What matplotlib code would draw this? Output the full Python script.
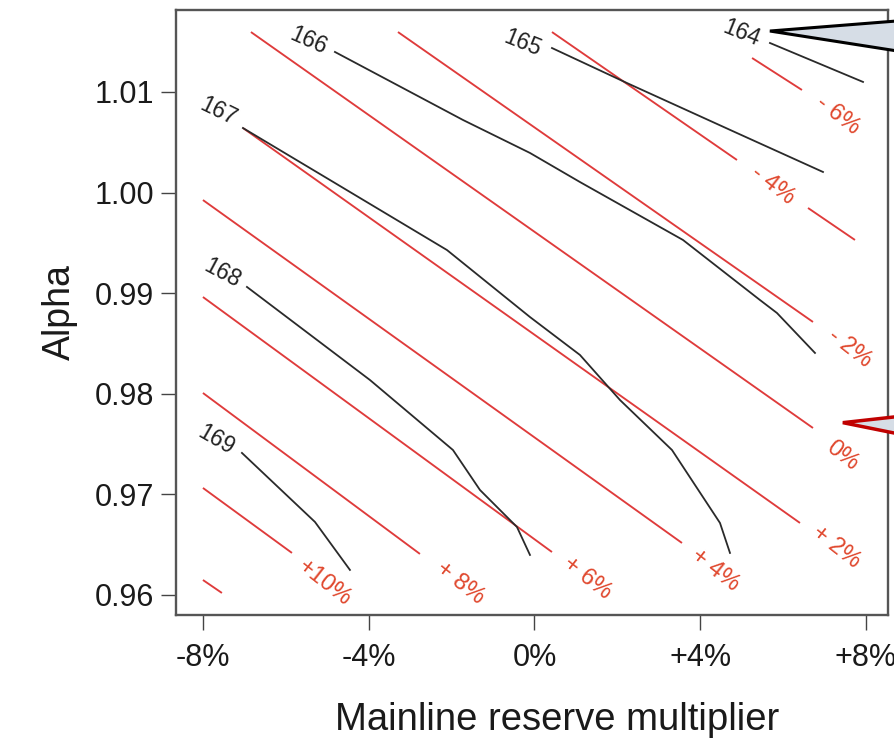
import matplotlib
matplotlib.use("Agg")
import matplotlib.pyplot as plt
from matplotlib.patches import Polygon

plt.rcParams['font.family'] = ['Liberation Sans', 'DejaVu Sans']

# ---- axis ticks ----
x_ticks = [-8, -4, 0, 4, 8]
x_tick_labels = ["-8%", "-4%", "0%", "+4%", "+8%"]
y_ticks = [0.96, 0.97, 0.98, 0.99, 1.00, 1.01]
y_tick_labels = ["0.96", "0.97", "0.98", "0.99", "1.00", "1.01"]

# ---- red reference lines (reserve change), each as segments ----
red_names = ["-6%", "-4%a", "-4%b", "-2%", "0%", "+2%", "+4%", "+6%", "+8%", "+10%", "+12%"]
red_x0 = [5.25, 0.422, 6.60, -3.294, -6.842, -7.035, -8.0, -8.0, -8.0, -8.0, -8.0]
red_y0 = [1.01338, 1.01596, 0.99847, 1.01596, 1.01596, 1.00642, 0.99926, 0.98962, 0.98008, 0.97064, 0.96149]
red_x1 = [6.454, 4.886, 7.733, 6.720, 6.720, 6.406, 3.559, 0.422, -2.764, -5.852, -7.542]
red_y1 = [1.0102, 1.00324, 0.99529, 0.98714, 0.97660, 0.96716, 0.96517, 0.96427, 0.96408, 0.96418, 0.9602]

red_labels = ["- 6%", "- 4%", "- 2%", "0%", "+ 2%", "+ 4%", "+ 6%", "+ 8%", "+10%"]
red_lab_x = [7.323, 5.755, 7.613, 7.420, 7.275, 4.355, 1.266, -1.798, -5.056]
red_lab_y = [1.00771, 1.00076, 0.98455, 0.97382, 0.96477, 0.96249, 0.96169, 0.96120, 0.96120]

# ---- black contour lines ----
c164_x = [5.682, 7.927]
c164_y = [1.01487, 1.0110]
c165_x = [0.422, 2.232, 4.886, 6.961]
c165_y = [1.01437, 1.01089, 1.00592, 1.00205]
c166_x = [-4.815, -1.726, -0.109, 1.097, 3.583, 5.441, 5.851, 6.768]
c166_y = [1.01398, 1.00722, 1.00394, 1.00105, 0.99529, 0.98932, 0.98803, 0.98406]
c167_x = [-7.035, -4.935, -2.112, -0.109, 1.097, 2.063, 3.318, 4.476, 4.717]
c167_y = [1.00642, 1.00125, 0.99429, 0.98763, 0.98386, 0.97938, 0.97441, 0.96716, 0.96418]
c168_x = [-6.938, -3.970, -1.967, -1.316, -0.423, -0.109]
c168_y = [0.99062, 0.98137, 0.97441, 0.97044, 0.96676, 0.96398]
c169_x = [-7.059, -5.297, -4.453]
c169_y = [0.97412, 0.96726, 0.96249]

contour_levels = ["164", "165", "166", "167", "168", "169"]
contour_lab_x = [4.983, -0.302, -5.466, -7.638, -7.542, -7.686]
contour_lab_y = [1.01586, 1.01487, 1.01507, 1.00801, 0.99201, 0.97541]
contour_lab_rot = [-22, -22, -24, -26, -28, -30]

# ---- callouts (data coords of tip and base, right side) ----
gray_callout_x = [5.68, 8.75, 8.75]
gray_callout_y = [1.01606, 1.01706, 1.01408]
red_callout_x = [7.44, 8.75, 8.75]
red_callout_y = [0.97713, 0.97773, 0.97604]

fig = plt.figure(figsize=(8.94, 7.43), dpi=100)
ax = fig.add_axes([176/894, 1 - 615/743, (888-176)/894, (615-10)/743])

red_line_col = "#df3b3b"
red_text_col = "#e0482e"
black_col = "#2a2a2a"

for x0, y0, x1, y1 in zip(red_x0, red_y0, red_x1, red_y1):
    ax.plot([x0, x1], [y0, y1], color=red_line_col, lw=1.35, solid_capstyle='butt', zorder=2)

for t, x, y in zip(red_labels, red_lab_x, red_lab_y):
    ax.text(x, y, t, color=red_text_col, fontsize=17, rotation=-38,
            ha='center', va='center', rotation_mode='anchor', zorder=3)

for xs, ys in [(c164_x, c164_y), (c165_x, c165_y), (c166_x, c166_y),
               (c167_x, c167_y), (c168_x, c168_y), (c169_x, c169_y)]:
    ax.plot(xs, ys, color=black_col, lw=1.3, zorder=3)

for t, x, y, r in zip(contour_levels, contour_lab_x, contour_lab_y, contour_lab_rot):
    ax.text(x, y, t, color="#222222", fontsize=16.5, rotation=r,
            ha='center', va='center', rotation_mode='anchor', zorder=3)

ax.add_patch(Polygon(list(zip(gray_callout_x, gray_callout_y)), closed=True,
                     facecolor="#d6dde6", edgecolor="black", lw=2.2,
                     clip_on=False, zorder=10))
ax.add_patch(Polygon(list(zip(red_callout_x, red_callout_y)), closed=True,
                     facecolor="#d6dde6", edgecolor="#c00000", lw=2.5,
                     clip_on=False, zorder=10))

ax.set_xlim(-8.65, 8.53)
ax.set_ylim(0.95801, 1.01815)
ax.set_xticks(x_ticks)
ax.set_xticklabels(x_tick_labels)
ax.set_yticks(y_ticks)
ax.set_yticklabels(y_tick_labels)
ax.tick_params(axis='both', direction='out', length=11, width=1.0, color='#444444',
               labelsize=22, labelcolor='#1a1a1a')
ax.tick_params(axis='x', pad=9)
ax.tick_params(axis='y', pad=5)
for s in ax.spines.values():
    s.set_color('#555555')
    s.set_linewidth(1.7)

ax.set_xlabel("Mainline reserve multiplier", fontsize=27.5, color='#1a1a1a')
ax.xaxis.set_label_coords(0.535, -0.143)
ax.set_ylabel("Alpha", fontsize=27, color='#1a1a1a', labelpad=12)

fig.savefig("out.png", dpi=100)
